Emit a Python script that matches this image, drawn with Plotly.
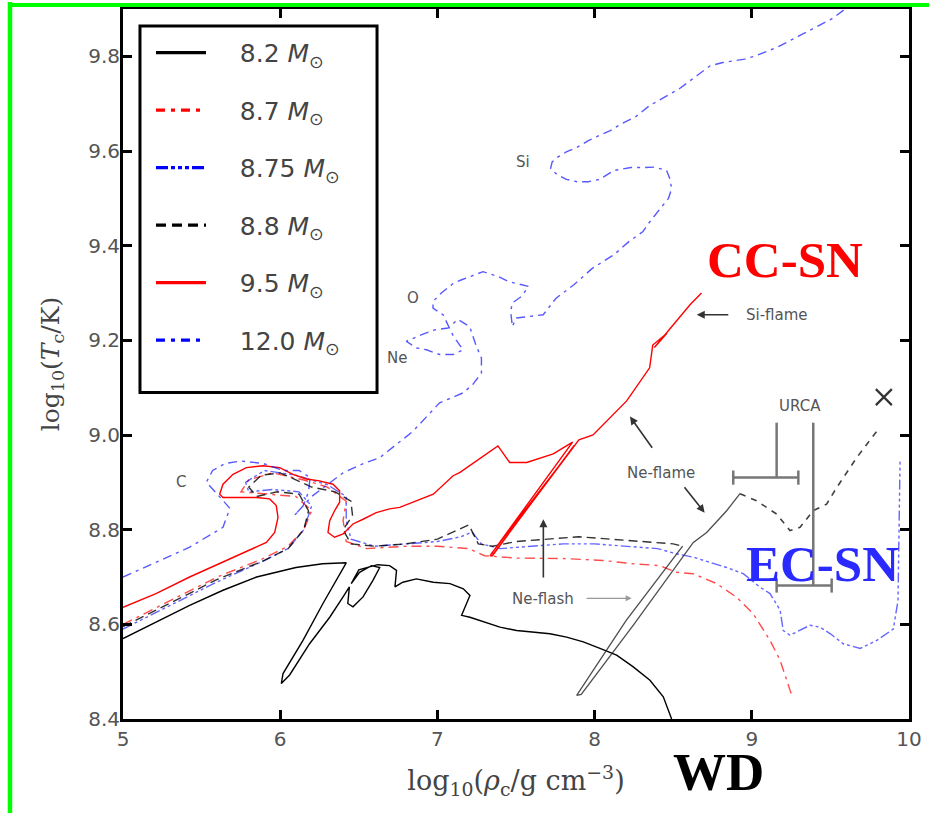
import plotly.graph_objects as go

# ---------------- data (log10 rho_c, log10 T_c) ----------------
m82_x = [5.0, 5.21, 5.424, 5.636, 5.85, 6.1, 6.27, 6.42, 6.357, 6.272, 6.145, 6.018, 6.007, 6.06,
         6.187, 6.315, 6.40, 6.44, 6.43, 6.463, 6.527, 6.59, 6.633, 6.58, 6.505, 6.452, 6.5, 6.62,
         6.696, 6.74, 6.73, 6.78, 6.866, 6.974, 7.08, 7.165, 7.207, 7.165, 7.154, 7.207, 7.292,
         7.398, 7.504, 7.61, 7.716, 7.822, 7.928, 8.034, 8.14, 8.246, 8.352, 8.437, 8.48, 8.49]
m82_y = [8.57, 8.605, 8.64, 8.672, 8.70, 8.72, 8.728, 8.73, 8.693, 8.644, 8.566, 8.496, 8.475, 8.493,
         8.559, 8.615, 8.658, 8.679, 8.644, 8.637, 8.658, 8.693, 8.72, 8.724, 8.71, 8.686, 8.715, 8.726,
         8.724, 8.714, 8.679, 8.689, 8.696, 8.689, 8.686, 8.675, 8.661, 8.629, 8.619, 8.615, 8.605,
         8.594, 8.587, 8.584, 8.58, 8.573, 8.563, 8.549, 8.535, 8.51, 8.482, 8.447, 8.412, 8.40]

m87_x = [5.0, 5.3, 5.6, 5.9, 6.05, 6.15, 6.2, 6.1, 5.9, 5.75, 5.8, 5.95, 6.15, 6.3, 6.42, 6.4, 6.42,
         6.55, 6.8, 7.0, 7.2, 7.3, 7.5, 7.8, 8.05, 8.245, 8.416, 8.52, 8.627, 8.777, 8.904, 9.01,
         9.116, 9.18, 9.243, 9.26]
m87_y = [8.60, 8.65, 8.70, 8.74, 8.765, 8.80, 8.84, 8.87, 8.875, 8.88, 8.905, 8.92, 8.905, 8.89, 8.86,
         8.82, 8.775, 8.76, 8.765, 8.765, 8.76, 8.745, 8.74, 8.739, 8.735, 8.728, 8.724, 8.71, 8.707,
         8.686, 8.657, 8.622, 8.566, 8.524, 8.461, 8.445]

m875_x = [5.0, 5.3, 5.6, 5.9, 6.05, 6.15, 6.2, 6.12, 5.95, 5.8, 5.78, 5.9, 6.1, 6.3, 6.42, 6.42,
          6.45, 6.6, 6.8, 7.0, 7.15, 7.22, 7.28, 7.4, 7.6, 7.8, 8.0, 8.2, 8.4, 8.52, 8.627, 8.84,
          8.946, 9.05, 9.116, 9.18, 9.2, 9.243, 9.37, 9.434, 9.5, 9.582, 9.69, 9.795, 9.90, 9.93,
          9.935, 9.943]
m875_y = [8.59, 8.64, 8.69, 8.735, 8.76, 8.80, 8.85, 8.88, 8.885, 8.88, 8.90, 8.925, 8.915, 8.895,
          8.87, 8.82, 8.78, 8.765, 8.77, 8.775, 8.785, 8.795, 8.77, 8.76, 8.765, 8.77, 8.77, 8.765,
          8.76, 8.749, 8.742, 8.72, 8.707, 8.679, 8.665, 8.63, 8.587, 8.577, 8.598, 8.594, 8.58,
          8.559, 8.549, 8.566, 8.59, 8.65, 8.79, 8.945]

m88_x = [5.0, 5.3, 5.6, 5.9, 6.05, 6.15, 6.18, 6.12, 5.98, 5.85, 5.80, 5.88, 6.0, 6.2, 6.35, 6.45,
         6.46, 6.40, 6.45, 6.6, 6.8, 7.0, 7.1, 7.2, 7.26, 7.35, 7.5, 7.7, 7.9, 8.1, 8.3, 8.5, 8.56]
m88_y = [8.595, 8.645, 8.695, 8.735, 8.76, 8.80, 8.84, 8.875, 8.88, 8.87, 8.89, 8.915, 8.92, 8.89,
         8.88, 8.86, 8.83, 8.80, 8.77, 8.765, 8.77, 8.78, 8.795, 8.81, 8.77, 8.765, 8.775, 8.78,
         8.785, 8.78, 8.775, 8.77, 8.765]
m88_dip_x = [8.56, 8.20, 7.886, 7.915, 8.25, 8.628, 8.713, 8.84, 8.925]
m88_dip_y = [8.765, 8.608, 8.45, 8.452, 8.60, 8.773, 8.794, 8.84, 8.876]
m88_end_x = [8.925, 9.03, 9.158, 9.243, 9.307, 9.39, 9.476, 9.54, 9.667, 9.795]
m88_end_y = [8.876, 8.861, 8.833, 8.798, 8.805, 8.84, 8.854, 8.889, 8.952, 9.008]
m88_final_x = [9.84]
m88_final_y = [9.08]

m95_x = [5.0, 5.21, 5.424, 5.636, 5.806, 5.912, 5.965, 5.986, 5.975, 5.933, 5.848, 5.72, 5.636,
         5.615, 5.636, 5.70, 5.785, 5.89, 5.997, 6.081, 6.166, 6.25, 6.336, 6.378, 6.378, 6.346,
         6.315, 6.304, 6.346, 6.4, 6.463, 6.527, 6.611, 6.696, 6.76, 6.845, 6.974, 7.10, 7.144,
         7.385, 7.46, 7.568, 7.737, 7.86, 7.335, 7.35, 7.87, 7.86, 7.345, 7.355, 7.9, 7.99, 8.204,
         8.35, 8.37, 8.46, 8.38, 8.47, 8.607, 8.68]
m95_y = [8.636, 8.665, 8.70, 8.731, 8.756, 8.773, 8.794, 8.826, 8.851, 8.865, 8.868, 8.868, 8.868,
         8.875, 8.896, 8.917, 8.931, 8.935, 8.931, 8.917, 8.907, 8.903, 8.896, 8.882, 8.858, 8.84,
         8.819, 8.794, 8.784, 8.791, 8.812, 8.822, 8.836, 8.844, 8.847, 8.858, 8.875, 8.914, 8.921,
         8.977, 8.942, 8.942, 8.96, 8.985, 8.745, 8.745, 8.978, 8.972, 8.75, 8.748, 8.99, 9.0, 9.072,
         9.142, 9.19, 9.215, 9.185, 9.22, 9.275, 9.30]

m12_x = [5.0, 5.21, 5.424, 5.636, 5.68, 5.6, 5.53, 5.57, 5.65, 5.75, 5.89, 6.02, 6.12, 6.19, 6.18,
         6.145, 6.09, 6.2, 6.40, 6.53, 6.633, 6.845, 7.014, 7.163, 7.226, 7.28, 7.28, 7.248, 7.205,
         7.131, 7.067, 6.983, 6.908, 6.802, 6.866, 6.93, 7.014, 7.10, 7.163, 7.10, 7.036, 6.972,
         6.972, 7.025, 7.10, 7.154, 7.29, 7.385, 7.454, 7.58, 7.535, 7.477, 7.466, 7.477, 7.5,
         7.673, 7.755, 7.87, 7.985, 8.124, 8.216, 8.308, 8.35, 8.42, 8.47, 8.49, 8.48, 8.458, 8.38,
         8.31, 8.23, 8.124, 8.03, 7.96, 7.89, 7.82, 7.755, 7.72, 7.73, 7.765, 7.82, 7.89, 7.96,
         8.03, 8.10, 8.168, 8.26, 8.35, 8.447, 8.537, 8.654, 8.735, 8.816, 8.954, 9.024, 9.16,
         9.30, 9.38, 9.508, 9.578, 9.62]
m12_y = [8.70, 8.731, 8.763, 8.805, 8.845, 8.875, 8.90, 8.925, 8.94, 8.945, 8.94, 8.925, 8.925,
         8.91, 8.88, 8.85, 8.83, 8.87, 8.92, 8.94, 8.952, 9.008, 9.068, 9.089, 9.107, 9.131, 9.163,
         9.187, 9.229, 9.244, 9.226, 9.222, 9.213, 9.198, 9.184, 9.18, 9.17, 9.17, 9.18, 9.21,
         9.254, 9.268, 9.282, 9.30, 9.32, 9.328, 9.345, 9.335, 9.324, 9.314, 9.293, 9.279, 9.261,
         9.229, 9.247, 9.254, 9.289, 9.318, 9.352, 9.381, 9.408, 9.43, 9.45, 9.479, 9.50, 9.52,
         9.54, 9.559, 9.566, 9.565, 9.565, 9.559, 9.54, 9.535, 9.535, 9.54, 9.552, 9.563, 9.577,
         9.587, 9.598, 9.608, 9.622, 9.633, 9.643, 9.657, 9.672, 9.696, 9.714, 9.731, 9.76, 9.78,
         9.787, 9.794, 9.801, 9.819, 9.843, 9.857, 9.879, 9.896, 9.91]

# URCA bracket markers
urca_x = [9.158, 9.158, None, 8.882, 9.296, None, 8.882, 8.882, None, 9.296, 9.296, None,
          9.391, 9.391, None, 9.158, 9.508, None, 9.158, 9.158, None, 9.508, 9.508]
urca_y = [9.026, 8.91, None, 8.91, 8.91, None, 8.895, 8.925, None, 8.895, 8.925, None,
          9.026, 8.682, None, 8.682, 8.682, None, 8.667, 8.697, None, 8.667, 8.697]

# Labels
burn_labels = ["C", "Ne", "O", "Si"]
burn_x = [5.37, 6.74, 6.845, 7.545]
burn_y = [8.90, 9.163, 9.289, 9.577]

legend_names = ["8.2", "8.7", "8.75", "8.8", "9.5", "12.0"]

# ---------------- figure ----------------
fig = go.Figure()

def name(m):
    return "\u00a0\u00a0\u00a0\u2009" + f"{m} <i>M</i><sub>⊙</sub>"

styles = [
    (m82_x, m82_y, "black", "solid", 1.0),
    (m87_x, m87_y, "red", "10px,5px,3px,5px", 0.7),
    (m875_x, m875_y, "blue", "10px,3px,3px,3px,3px,3px,3px,3px", 0.6),
    (m88_x, m88_y, "black", "9px,5px", 0.8),
    (m95_x, m95_y, "red", "solid", 1.0),
    (m12_x, m12_y, "blue", "9px,5px,3px,5px", 0.65),
]
leg_dash = ["solid", "9px,6px,4px,6px", "12px,3px,4px,3px,4px,3px,4px,3px",
            "10px,6px", "solid", "9px,6px,4px,6px"]
for i, (xs, ys, col, dash, op) in enumerate(styles):
    fig.add_trace(go.Scatter(x=xs, y=ys, mode="lines", showlegend=False,
                             legendgroup=f"g{i}", opacity=op,
                             line=dict(color=col, width=1.4, dash=dash)))
# legend entries (drawn with the thicker legend sample lines)
for i, (xs, ys, col, dash, op) in enumerate(styles):
    fig.add_trace(go.Scatter(x=[None], y=[None], mode="lines", name=name(legend_names[i]),
                             legendgroup=f"g{i}", showlegend=True,
                             line=dict(color=col, width=3.2, dash=leg_dash[i])))

fig.add_trace(go.Scatter(x=m88_dip_x, y=m88_dip_y, mode="lines", showlegend=False,
                         legendgroup="g3", opacity=0.8, line=dict(color="#222", width=1.3)))
fig.add_trace(go.Scatter(x=m88_end_x, y=m88_end_y, mode="lines", showlegend=False,
                         legendgroup="g3", opacity=0.85,
                         line=dict(color="#222", width=1.6, dash="6px,6px")))
fig.add_trace(go.Scatter(x=m88_final_x, y=m88_final_y, mode="markers", showlegend=False,
                         legendgroup="g3",
                         marker=dict(symbol="x-thin", size=16, line=dict(color="#333", width=2.2))))
fig.add_trace(go.Scatter(x=urca_x, y=urca_y, mode="lines", showlegend=False,
                         line=dict(color="#777", width=2.5)))

grey = "#555"
for t, x, y in zip(burn_labels, burn_x, burn_y):
    fig.add_annotation(x=x, y=y, text=t, showarrow=False,
                       font=dict(family="DejaVu Sans", size=15, color=grey))

fig.add_annotation(x=9.307, y=9.061, text="URCA", showarrow=False,
                   font=dict(family="DejaVu Sans", size=15, color=grey))
# arrows
arrow_kw = dict(showarrow=True, arrowhead=2, arrowsize=1, arrowwidth=1.6, arrowcolor="#333",
                axref="x", ayref="y", text="")
fig.add_annotation(x=8.65, y=9.254, ax=8.86, ay=9.254, **arrow_kw)
fig.add_annotation(x=9.158, y=9.254, text="Si-flame", showarrow=False,
                   font=dict(family="DejaVu Sans", size=15, color=grey))
fig.add_annotation(x=8.225, y=9.039, ax=8.373, ay=8.97, **arrow_kw)
fig.add_annotation(x=8.70, y=8.836, ax=8.564, ay=8.893, **arrow_kw)
fig.add_annotation(x=8.42, y=8.92, text="Ne-flame", showarrow=False,
                   font=dict(family="DejaVu Sans", size=15, color=grey))
fig.add_annotation(x=7.674, y=8.822, ax=7.674, ay=8.696, **arrow_kw)
fig.add_annotation(x=8.236, y=8.655, ax=7.94, ay=8.655,
                   showarrow=True, arrowhead=2, arrowsize=1, arrowwidth=1.2, arrowcolor="#999",
                   axref="x", ayref="y", text="")
fig.add_annotation(x=7.67, y=8.654, text="Ne-flash", showarrow=False,
                   font=dict(family="DejaVu Sans", size=15, color=grey))

fig.add_annotation(x=9.214, y=9.369, text="<b>CC-SN</b>", showarrow=False,
                   font=dict(family="Liberation Serif", size=51, color="red"))
fig.add_annotation(x=9.45, y=8.728, text="<b>EC-SN</b>", showarrow=False,
                   font=dict(family="Liberation Serif", size=51, color="#2a2aff"))
fig.add_annotation(xref="paper", yref="paper", x=0.757, y=-0.074, text="<b>WD</b>",
                   showarrow=False, xanchor="center", yanchor="middle",
                   font=dict(family="Liberation Serif", size=53, color="black"))

# legend frame
fig.add_shape(type="rect", xref="paper", yref="paper", x0=0.0216, x1=0.3232, y0=0.46, y1=0.9762,
              line=dict(color="black", width=3), fillcolor="white", layer="above")

# green frame
fig.add_shape(type="line", xref="paper", yref="paper", x0=-0.1438, x1=1.03, y0=1.0056, y1=1.0056,
              line=dict(color="#00ff00", width=4))
fig.add_shape(type="line", xref="paper", yref="paper", x0=-0.1438, x1=-0.1438, y0=1.01, y1=-0.14,
              line=dict(color="#00ff00", width=4.5))

axis_common = dict(showline=True, linewidth=3, linecolor="black", mirror="ticks",
                   ticks="inside", ticklen=9, tickwidth=2.5, tickcolor="black",
                   showgrid=False, zeroline=False,
                   tickfont=dict(family="DejaVu Sans", size=20, color="#555"))
fig.update_layout(
    width=929, height=813,
    margin=dict(l=123, r=20, t=6, b=94),
    paper_bgcolor="white", plot_bgcolor="white",
    xaxis=dict(range=[5, 10], tickvals=[5, 6, 7, 8, 9, 10],
               title=dict(text="log<sub>10</sub>(<i>ρ</i><sub>c</sub>/g cm<sup>−3</sup>)",
                          font=dict(family="DejaVu Serif", size=27, color="#444"), standoff=22),
               **axis_common),
    yaxis=dict(range=[8.4, 9.9], tickvals=[8.4, 8.6, 8.8, 9.0, 9.2, 9.4, 9.6, 9.8],
               ticktext=["8.4", "8.6", "8.8", "9.0", "9.2", "9.4", "9.6", "9.8"],
               ticklabelstandoff=-4,
               title=dict(text="log<sub>10</sub>(<i>T</i><sub>c</sub>/K)",
                          font=dict(family="DejaVu Serif", size=25, color="#444"), standoff=22),
               **axis_common),
    legend=dict(x=0.0356, y=0.9705, xanchor="left", yanchor="top",
                bgcolor="rgba(0,0,0,0)", borderwidth=0,
                font=dict(family="DejaVu Sans", size=25, color="#444"),
                tracegroupgap=22, itemwidth=50),
    showlegend=True,
)

fig.write_html("out.html")
